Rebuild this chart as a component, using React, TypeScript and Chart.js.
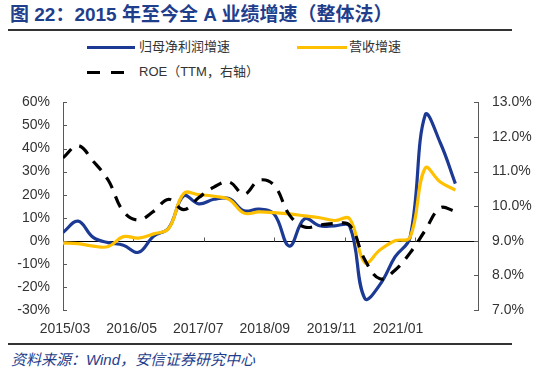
import React, { useEffect, useRef } from "react";
import { Chart, registerables } from "chart.js";

Chart.register(...registerables);

// ---- data ----
const quarters = [
  "2015/03", "2015/06", "2015/09", "2015/12",
  "2016/03", "2016/06", "2016/09", "2016/12",
  "2017/03", "2017/06", "2017/09", "2017/12",
  "2018/03", "2018/06", "2018/09", "2018/12",
  "2019/03", "2019/06", "2019/09", "2019/12",
  "2020/03", "2020/06", "2020/09", "2020/12",
  "2021/03", "2021/06", "2021/09",
];
const profitGrowth = [
  3.6, 8.5, 1.5, -0.8,
  -1.9, -5, 2, 5.5,
  19.5, 16, 18, 18.3,
  13, 13.7, 11.5, -2.3,
  9.5, 6.5, 6.5, 6.3,
  -25, -19, -7, 1.5,
  54.5, 42.5, 24.8,
];
const revenueGrowth = [
  -1, -1.2, -2.3, -2.5,
  1.8, 1.2, 3, 5.3,
  20.5, 20, 19.3, 18,
  12, 12.5, 12.2, 11.7,
  10.8, 10, 8.8, 9.5,
  -9.5, -4, 0, 1.5,
  31.5, 25.5, 22,
];
const roeTTM = [
  11.4, 11.75, 11.3, 10.75,
  9.85, 9.6, 9.85, 10.2,
  9.9, 10.25, 10.55, 10.7,
  10.35, 10.75, 10.6, 9.75,
  9.4, 9.45, 9.5, 9.45,
  8.45, 7.9, 8.15, 8.65,
  9.3, 9.95, 9.85,
];
const tickLabels = ["2015/03", "2016/05", "2017/07", "2018/09", "2019/11", "2021/01"];

const seriesNames = ["归母净利润增速", "营收增速", "ROE（TTM，右轴）"];
const titleText = "图 22：2015 年至今全 A 业绩增速（整体法）";
const sourceText = "资料来源：Wind，安信证券研究中心";

const FONT = "'Liberation Sans', Arial, 'Noto Sans CJK SC', sans-serif";
const BLUE = "#1C3A94";
const YELLOW = "#FFC000";
const AXIS = "#595959";
const TEXT = "#333333";
const TITLE_BLUE = "#1F3E8C";

const monthIndex = (label: string) => {
  const [y, m] = label.split("/").map(Number);
  return (y - 2015) * 12 + (m - 3);
};

const toPoints = (vals: number[]) => quarters.map((q, i) => ({ x: monthIndex(q), y: vals[i] }));

const axisDecor = {
  id: "axisDecor",
  beforeDatasetsDraw(chart: any) {
    const { ctx, chartArea, scales } = chart;
    const x = scales.x, y = scales.y, y1 = scales.y1;
    const y0 = Math.round(y.getPixelForValue(0)) + 0.5;
    ctx.save();
    ctx.lineWidth = 1;
    ctx.strokeStyle = "#000";
    ctx.beginPath();
    ctx.moveTo(chartArea.left, y0);
    ctx.lineTo(chartArea.right, y0);
    ctx.stroke();
    ctx.strokeStyle = AXIS;
    ctx.beginPath();
    tickLabels.forEach((lab) => {
      const px = Math.round(x.getPixelForValue(monthIndex(lab))) + 0.5;
      if (px > chartArea.left + 2) {
        ctx.moveTo(px, y0);
        ctx.lineTo(px, y0 - 4);
      }
    });
    y.ticks.forEach((t: any) => {
      const py = Math.round(y.getPixelForValue(t.value)) + 0.5;
      ctx.moveTo(chartArea.left, py);
      ctx.lineTo(chartArea.left + 4, py);
    });
    y1.ticks.forEach((t: any) => {
      const py = Math.round(y1.getPixelForValue(t.value)) + 0.5;
      ctx.moveTo(chartArea.right, py);
      ctx.lineTo(chartArea.right - 4, py);
    });
    ctx.stroke();
    ctx.restore();
  },
};

export default function App() {
  const ref = useRef<HTMLCanvasElement | null>(null);

  useEffect(() => {
    if (!ref.current) return;
    const chart = new Chart(ref.current, {
      type: "line",
      data: {
        datasets: [
          {
            label: seriesNames[0],
            data: toPoints(profitGrowth),
            borderColor: BLUE,
            borderWidth: 3.2,
            pointRadius: 0,
            tension: 0.4,
            yAxisID: "y",
            order: 3,
          },
          {
            label: seriesNames[1],
            data: toPoints(revenueGrowth),
            borderColor: YELLOW,
            borderWidth: 3.2,
            pointRadius: 0,
            tension: 0.4,
            yAxisID: "y",
            order: 2,
          },
          {
            label: seriesNames[2],
            data: toPoints(roeTTM),
            borderColor: "#000",
            borderWidth: 3.2,
            borderDash: [12, 9],
            pointRadius: 0,
            tension: 0.4,
            yAxisID: "y1",
            order: 1,
          },
        ],
      },
      options: {
        responsive: false,
        animation: false,
        layout: { padding: { top: 11, left: 0, right: 0, bottom: 0 } },
        plugins: { legend: { display: false }, tooltip: { enabled: false } },
        scales: {
          x: {
            type: "linear",
            min: 0,
            max: 82.5,
            display: false,
          },
          x2: {
            type: "linear",
            position: "bottom",
            min: -0.03,
            max: 6.2,
            afterFit: (s: any) => { s.height = 30; },
            afterBuildTicks: (s: any) => {
              s.ticks = tickLabels.map((_, i) => ({ value: i }));
            },
            grid: { display: false, drawTicks: false },
            border: { display: false },
            ticks: {
              autoSkip: false,
              maxRotation: 0,
              padding: 11,
              color: TEXT,
              font: { family: FONT, size: 14 },
              callback: (v: any) => tickLabels[Math.round(v)] ?? "",
            },
          },
          y: {
            type: "linear",
            position: "left",
            min: -30,
            max: 60,
            afterFit: (s: any) => { s.width = 63; },
            grid: { display: false, drawTicks: false },
            border: { display: true, color: AXIS, width: 1 },
            ticks: {
              stepSize: 10,
              padding: 13,
              color: TEXT,
              font: { family: FONT, size: 14 },
              callback: (v: any) => `${v}%`,
            },
          },
          y1: {
            type: "linear",
            position: "right",
            min: 7,
            max: 13,
            afterFit: (s: any) => { s.width = 72; },
            grid: { display: false, drawTicks: false },
            border: { display: true, color: AXIS, width: 1 },
            ticks: {
              stepSize: 1,
              padding: 14,
              color: TEXT,
              font: { family: FONT, size: 14 },
              callback: (v: any) => `${Number(v).toFixed(1)}%`,
            },
          },
        },
      } as any,
      plugins: [axisDecor],
    });
    return () => chart.destroy();
  }, []);

  const legendText: React.CSSProperties = {
    position: "absolute",
    fontFamily: FONT,
    fontSize: 13,
    color: TEXT,
    lineHeight: "16px",
    whiteSpace: "nowrap",
  };

  return (
    <div
      style={{
        position: "absolute",
        left: 0,
        top: 0,
        width: 550,
        height: 372,
        background: "#fff",
        overflow: "hidden",
      }}
    >
      <div
        style={{
          position: "absolute",
          left: 10,
          top: 4,
          fontFamily: FONT,
          fontWeight: "bold",
          fontSize: 19,
          lineHeight: "22px",
          color: TITLE_BLUE,
          whiteSpace: "nowrap",
        }}
      >
        {titleText}
      </div>
      <div style={{ position: "absolute", left: 8, top: 29, width: 504, height: 2, background: "#333" }} />

      {/* legend */}
      <div style={{ position: "absolute", left: 87, top: 45.5, width: 48, height: 3, background: BLUE }} />
      <div style={{ ...legendText, left: 139, top: 39 }}>{seriesNames[0]}</div>
      <div style={{ position: "absolute", left: 297, top: 45.5, width: 50, height: 3, background: YELLOW }} />
      <div style={{ ...legendText, left: 349, top: 39 }}>{seriesNames[1]}</div>
      <div style={{ position: "absolute", left: 87, top: 70.5, width: 13, height: 3, background: "#000" }} />
      <div style={{ position: "absolute", left: 111, top: 70.5, width: 13, height: 3, background: "#000" }} />
      <div style={{ ...legendText, left: 139, top: 64 }}>{seriesNames[2]}</div>

      <canvas
        ref={ref}
        width={550}
        height={260}
        style={{ position: "absolute", left: 0, top: 80, width: 550, height: 260, display: "block" }}
      />

      <div style={{ position: "absolute", left: 8, top: 343, width: 504, height: 2, background: "#333" }} />
      <div
        style={{
          position: "absolute",
          left: 11,
          top: 351,
          fontFamily: FONT,
          fontStyle: "italic",
          fontSize: 15,
          lineHeight: "18px",
          color: TITLE_BLUE,
          whiteSpace: "nowrap",
        }}
      >
        {sourceText}
      </div>
    </div>
  );
}
